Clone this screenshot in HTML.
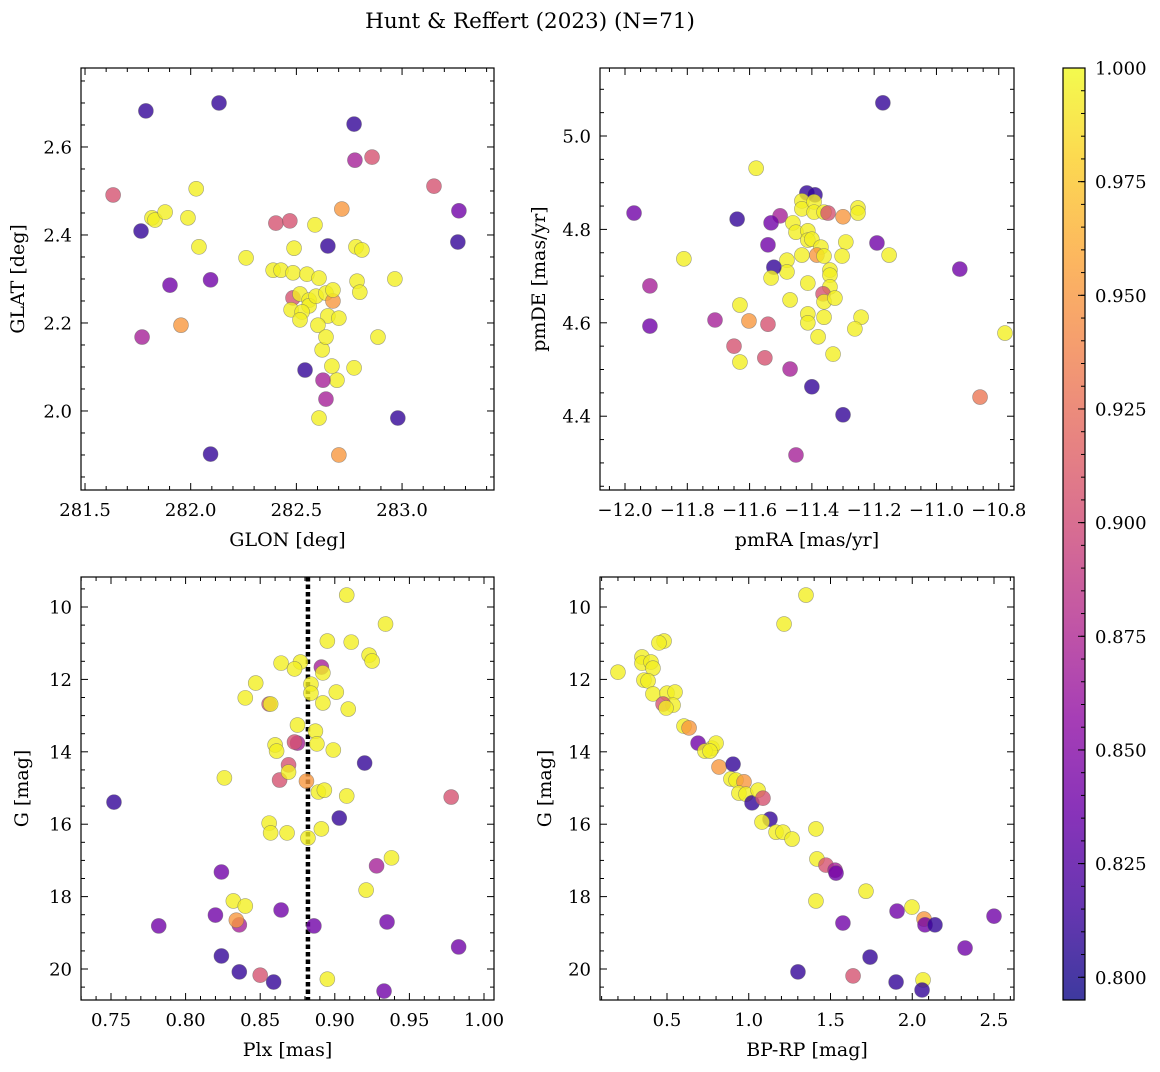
<!DOCTYPE html>
<html><head><meta charset="utf-8"><style>
body{margin:0;background:#fff;}
svg text{font-family:"DejaVu Serif","Liberation Serif",serif;fill:#000;}
</style></head><body>
<svg id="fig" width="1160" height="1067" viewBox="0 0 1160 1067" xmlns="http://www.w3.org/2000/svg">
<rect width="1160" height="1067" fill="#fff"/>
<text x="530" y="28" font-size="21.5" text-anchor="middle">Hunt &amp; Reffert (2023) (N=71)</text>
</svg>
<script>
// Probability codes: Y=0.995 O=0.95 P=0.905 M=0.87 U=0.84 D=0.81
const p1_glon=[281.633,281.788,282.134,282.773,282.777,282.858,283.151,283.269,283.264,281.765,281.770,281.902,282.094,282.094,281.954,281.817,281.831,281.879,282.026,281.987,282.039,282.262,282.403,282.469,282.715,282.588,282.649,282.489,282.390,282.427,282.484,282.550,282.607,282.782,282.810,282.787,282.800,282.966,282.484,282.517,282.560,282.560,282.475,282.527,282.593,282.640,282.673,282.673,282.649,282.701,282.517,282.602,282.622,282.640,282.886,282.668,282.692,282.773,282.626,282.640,282.541,282.607,282.701,282.980];
const p1_glat=[2.491,2.682,2.700,2.652,2.570,2.577,2.511,2.455,2.384,2.409,2.168,2.286,2.298,1.902,2.195,2.439,2.434,2.452,2.505,2.439,2.373,2.348,2.427,2.432,2.459,2.423,2.375,2.370,2.320,2.320,2.314,2.311,2.302,2.373,2.366,2.295,2.270,2.300,2.257,2.266,2.252,2.239,2.230,2.225,2.261,2.268,2.250,2.275,2.216,2.211,2.207,2.195,2.139,2.168,2.168,2.102,2.070,2.098,2.070,2.027,2.093,1.984,1.900,1.984];
const p1_prob=[0.905,0.81,0.81,0.81,0.87,0.905,0.905,0.84,0.81,0.81,0.87,0.84,0.84,0.81,0.95,0.995,0.995,0.995,0.995,0.995,0.995,0.995,0.905,0.905,0.95,0.995,0.81,0.995,0.995,0.995,0.995,0.995,0.995,0.995,0.995,0.995,0.995,0.995,0.905,0.995,0.995,0.995,0.995,0.995,0.995,0.995,0.95,0.995,0.995,0.995,0.995,0.995,0.995,0.995,0.995,0.995,0.995,0.995,0.87,0.87,0.81,0.995,0.95,0.81];

const p2_pmra=[-11.971,-11.920,-11.920,-11.811,-11.711,-11.640,-11.631,-11.602,-11.541,-11.650,-11.631,-11.551,-11.470,-11.579,-11.502,-11.531,-11.416,-11.390,-11.432,-11.432,-11.393,-11.393,-11.361,-11.348,-11.300,-11.252,-11.252,-11.461,-11.451,-11.413,-11.413,-11.400,-11.371,-11.384,-11.361,-11.291,-11.303,-11.191,-11.152,-11.541,-11.432,-11.480,-11.480,-11.522,-11.531,-11.342,-11.342,-11.413,-11.342,-11.364,-11.361,-11.326,-11.470,-11.413,-11.413,-11.361,-11.242,-11.262,-11.380,-11.332,-11.400,-11.172,-10.925,-10.780,-10.860,-11.300,-11.451];
const p2_pmde=[4.835,4.679,4.593,4.737,4.606,4.822,4.638,4.604,4.597,4.550,4.516,4.525,4.501,4.931,4.829,4.814,4.878,4.874,4.861,4.844,4.859,4.837,4.837,4.835,4.827,4.846,4.835,4.814,4.794,4.797,4.777,4.779,4.762,4.745,4.743,4.773,4.743,4.771,4.745,4.767,4.745,4.734,4.709,4.719,4.696,4.713,4.702,4.685,4.677,4.662,4.645,4.653,4.649,4.619,4.600,4.612,4.612,4.587,4.570,4.533,4.463,5.071,4.715,4.578,4.441,4.403,4.317];
const p2_prob=[0.84,0.87,0.84,0.995,0.87,0.81,0.995,0.95,0.905,0.905,0.995,0.905,0.87,0.995,0.87,0.84,0.81,0.81,0.995,0.995,0.995,0.995,0.995,0.905,0.95,0.995,0.995,0.995,0.995,0.995,0.995,0.995,0.995,0.95,0.995,0.995,0.995,0.84,0.995,0.84,0.995,0.995,0.995,0.81,0.995,0.995,0.995,0.995,0.995,0.905,0.995,0.995,0.995,0.995,0.995,0.995,0.995,0.995,0.995,0.995,0.81,0.81,0.84,0.995,0.93,0.81,0.87];

const p3_plx=[0.752,0.782,0.908,0.934,0.895,0.911,0.923,0.925,0.891,0.877,0.864,0.873,0.884,0.892,0.884,0.901,0.909,0.892,0.847,0.840,0.856,0.857,0.875,0.887,0.875,0.873,0.888,0.860,0.861,0.899,0.920,0.826,0.863,0.869,0.869,0.881,0.889,0.893,0.908,0.978,0.903,0.856,0.857,0.868,0.891,0.882,0.938,0.928,0.824,0.921,0.832,0.840,0.820,0.836,0.834,0.864,0.886,0.935,0.983,0.824,0.836,0.850,0.859,0.895,0.933];
const p3_g=[15.39,18.81,9.67,10.47,10.94,10.97,11.33,11.49,11.66,11.52,11.55,11.71,12.13,11.82,12.38,12.35,12.82,12.65,12.10,12.51,12.68,12.68,13.26,13.43,13.76,13.73,13.78,13.81,13.98,13.95,14.31,14.72,14.78,14.36,14.56,14.81,15.11,15.06,15.22,15.25,15.83,15.97,16.24,16.24,16.13,16.38,16.93,17.15,17.32,17.82,18.12,18.26,18.51,18.78,18.65,18.37,18.81,18.70,19.39,19.64,20.08,20.17,20.36,20.28,20.61];
const p3_prob=[0.81,0.84,0.995,0.995,0.995,0.995,0.995,0.995,0.87,0.995,0.995,0.995,0.995,0.995,0.995,0.995,0.995,0.995,0.995,0.995,0.905,0.995,0.995,0.995,0.87,0.905,0.995,0.995,0.995,0.995,0.81,0.995,0.905,0.905,0.995,0.95,0.995,0.995,0.995,0.905,0.81,0.995,0.995,0.995,0.995,0.995,0.995,0.87,0.84,0.995,0.995,0.995,0.84,0.87,0.95,0.84,0.84,0.84,0.84,0.81,0.81,0.905,0.81,0.995,0.84];
const plx_mean=0.882;

const p4_bprp=[0.200,0.347,0.347,0.402,0.414,0.359,0.384,0.414,0.482,0.451,0.500,0.549,0.537,0.476,0.494,0.604,0.635,0.690,0.775,0.800,0.732,0.763,0.818,0.904,0.891,0.922,0.971,0.940,0.983,1.020,1.057,1.087,1.130,1.081,1.167,1.209,1.265,1.216,1.350,1.411,1.417,1.472,1.528,1.534,1.717,1.411,1.576,1.907,1.998,2.072,2.078,2.139,2.500,2.323,1.742,1.638,1.301,1.901,2.066,2.060];
const p4_g=[11.80,11.38,11.55,11.52,11.69,12.02,12.04,12.40,10.94,10.99,12.38,12.35,12.71,12.68,12.79,13.29,13.34,13.76,13.90,13.76,13.98,13.98,14.42,14.34,14.75,14.78,14.83,15.14,15.17,15.41,15.06,15.28,15.86,15.94,16.22,16.22,16.41,10.47,9.67,16.13,16.96,17.13,17.27,17.35,17.85,18.12,18.73,18.40,18.29,18.62,18.78,18.78,18.54,19.42,19.67,20.19,20.08,20.36,20.30,20.58];
const p4_prob=[0.995,0.995,0.995,0.995,0.995,0.995,0.995,0.995,0.995,0.995,0.995,0.995,0.995,0.905,0.995,0.995,0.95,0.84,0.995,0.995,0.995,0.995,0.95,0.81,0.995,0.995,0.95,0.995,0.995,0.81,0.995,0.905,0.81,0.995,0.995,0.995,0.995,0.995,0.995,0.995,0.995,0.905,0.87,0.84,0.995,0.995,0.84,0.84,0.995,0.95,0.84,0.81,0.84,0.84,0.81,0.905,0.81,0.81,0.995,0.81];

const cb_ticks=[0.800,0.825,0.850,0.875,0.900,0.925,0.950,0.975,1.000];

const NS="http://www.w3.org/2000/svg";
const svg=document.getElementById('fig');
const VMIN=0.795, VMAX=1.0;
const plasma=[[13,8,135],[65,4,157],[106,0,168],[143,13,164],[177,42,144],[204,71,120],[225,100,98],[242,132,75],[252,166,54],[252,206,37],[240,249,33]];
function cmap(v){let t=(v-VMIN)/(VMAX-VMIN);t=Math.max(0,Math.min(1,t))*10;const i=Math.min(9,Math.floor(t)),f=t-i;const a=plasma[i],b=plasma[i+1];return 'rgb('+a.map((c,k)=>Math.round(c+(b[k]-c)*f)).join(',')+')';}
function el(tag,attrs,parent){const e=document.createElementNS(NS,tag);for(const k in attrs)e.setAttribute(k,attrs[k]);(parent||svg).appendChild(e);return e;}
function fmt(v,d){return (v<0?'\u2212':'')+Math.abs(v).toFixed(d);}

function panel(o){
  const g=el('g',{});
  
  
  const sx=v=>o.x0+(v-o.xmin)/(o.xmax-o.xmin)*(o.x1-o.x0);
  const sy=o.invert?(v=>o.y0+(v-o.ymin)/(o.ymax-o.ymin)*(o.y1-o.y0)):(v=>o.y1-(v-o.ymin)/(o.ymax-o.ymin)*(o.y1-o.y0));
  const eps=1e-9;
  for(let v=Math.ceil(o.xmin/o.xminor-eps)*o.xminor;v<=o.xmax+eps;v+=o.xminor){
    const vv=Math.round(v/o.xminor)*o.xminor;const x=sx(vv);
    const major=Math.abs(vv/o.xmajor-Math.round(vv/o.xmajor))<1e-6;const L=major?7:4;
    el('line',{x1:x,x2:x,y1:o.y1,y2:o.y1-L,stroke:'#000','stroke-width':1},g);
    el('line',{x1:x,x2:x,y1:o.y0,y2:o.y0+L,stroke:'#000','stroke-width':1},g);
    if(major){const t=el('text',{x:x,y:o.y1+26,'font-size':18,'text-anchor':'middle'},g);t.textContent=fmt(vv,o.xd);
      
      }
  }
  for(let v=Math.ceil(o.ymin/o.yminor-eps)*o.yminor;v<=o.ymax+eps;v+=o.yminor){
    const vv=Math.round(v/o.yminor)*o.yminor;const y=sy(vv);
    const major=Math.abs(vv/o.ymajor-Math.round(vv/o.ymajor))<1e-6;const L=major?7:4;
    el('line',{x1:o.x0,x2:o.x0+L,y1:y,y2:y,stroke:'#000','stroke-width':1},g);
    el('line',{x1:o.x1,x2:o.x1-L,y1:y,y2:y,stroke:'#000','stroke-width':1},g);
    if(major){const t=el('text',{x:o.x0-9,y:y+6.5,'font-size':18,'text-anchor':'end'},g);t.textContent=fmt(vv,o.yd);
      
      }
  }
  if(o.vline!==undefined){const l=el('line',{x1:sx(o.vline),x2:sx(o.vline),y1:o.y0,y2:o.y1,stroke:'#000','stroke-width':4.5,'stroke-dasharray':'4.5,3'},g);
    
    }
  for(let i=0;i<o.xs.length;i++){
    const c=el('circle',{cx:sx(o.xs[i]),cy:sy(o.ys[i]),r:7.5,fill:cmap(o.ps[i]),'fill-opacity':0.8,stroke:'#666','stroke-opacity':0.6,'stroke-width':0.6},g);
    
    
  }
  const fr=el('rect',{x:o.x0,y:o.y0,width:o.x1-o.x0,height:o.y1-o.y0,fill:'none',stroke:'#000','stroke-width':1.2},g);
  
  
  const xl=el('text',{x:(o.x0+o.x1)/2,y:o.y1+56,'font-size':19,'text-anchor':'middle'},g);xl.textContent=o.xlabel;
  
  
  const yx=o.ylx,yy=(o.y0+o.y1)/2;
  const yl=el('text',{x:yx,y:yy,'font-size':19,'text-anchor':'middle',transform:'rotate(-90 '+yx+' '+yy+')'},g);yl.textContent=o.ylabel;
  
  
}

panel({name:'glon-glat-panel',x0:81,x1:494,y0:68,y1:490,xmin:281.481,xmax:283.435,ymin:1.8204,ymax:2.7795,xmajor:0.5,xminor:0.1,ymajor:0.2,yminor:0.05,xd:1,yd:1,xs:p1_glon,ys:p1_glat,ps:p1_prob,xlabel:'GLON [deg]',ylabel:'GLAT [deg]',ylx:24});
panel({name:'proper-motion-panel',x0:600,x1:1014,y0:68,y1:490,xmin:-12.0803,xmax:-10.751,ymin:4.242,ymax:5.1456,xmajor:0.2,xminor:0.05,ymajor:0.2,yminor:0.05,xd:1,yd:1,xs:p2_pmra,ys:p2_pmde,ps:p2_prob,xlabel:'pmRA [mas/yr]',ylabel:'pmDE [mas/yr]',ylx:545});
panel({name:'parallax-mag-panel',x0:81,x1:494,y0:577,y1:1000,xmin:0.7299,xmax:1.0067,ymin:9.171,ymax:20.856,invert:true,xmajor:0.05,xminor:0.01,ymajor:2,yminor:0.5,xd:2,yd:0,xs:p3_plx,ys:p3_g,ps:p3_prob,vline:plx_mean,xlabel:'Plx [mas]',ylabel:'G [mag]',ylx:28});
panel({name:'color-mag-panel',x0:600,x1:1014,y0:577,y1:1000,xmin:0.0902,xmax:2.6223,ymin:9.171,ymax:20.856,invert:true,xmajor:0.5,xminor:0.1,ymajor:2,yminor:0.5,xd:1,yd:0,xs:p4_bprp,ys:p4_g,ps:p4_prob,xlabel:'BP-RP [mag]',ylabel:'G [mag]',ylx:551});

const cbx0=1063,cbx1=1085,cby0=68,cby1=1000;
const defs=el('defs',{});
const grad=el('linearGradient',{id:'cbg',x1:0,y1:1,x2:0,y2:0},defs);
for(let i=0;i<=20;i++){const v=VMIN+(VMAX-VMIN)*i/20;el('stop',{offset:(i/20),'stop-color':cmap(v),'stop-opacity':0.8},grad);}
const cbg=el('g',{});


el('rect',{x:cbx0,y:cby0,width:cbx1-cbx0,height:cby1-cby0,fill:'url(#cbg)',stroke:'#000','stroke-width':1.2},cbg);
const cy=v=>cby1-(v-VMIN)/(VMAX-VMIN)*(cby1-cby0);
for(let k=0;k<cb_ticks.length;k++){
  const v=cb_ticks[k],y=cy(v);
  el('line',{x1:cbx1,x2:cbx1-7,y1:y,y2:y,stroke:'#000','stroke-width':1},cbg);
  const t=el('text',{x:cbx1+10,y:y+6.5,'font-size':18},cbg);t.textContent=v.toFixed(3);
  
  
}
for(let v=0.800;v<=1.0001;v+=0.005){const y=cy(v);el('line',{x1:cbx1,x2:cbx1-4,y1:y,y2:y,stroke:'#000','stroke-width':1},cbg);}
</script>
</body></html>
